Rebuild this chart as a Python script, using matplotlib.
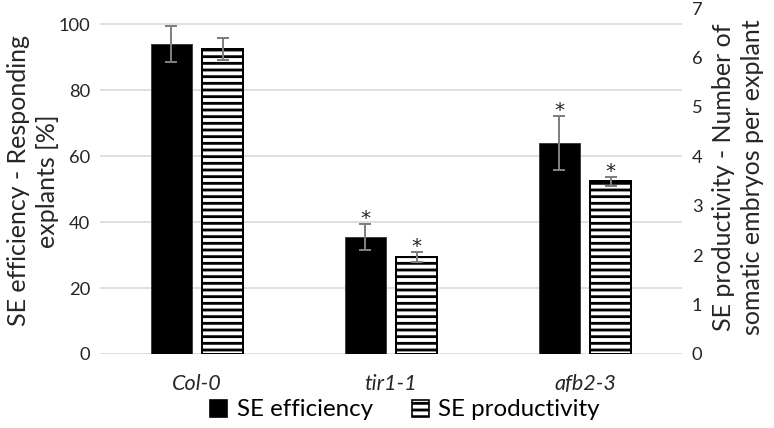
import matplotlib
matplotlib.use('Agg')
import matplotlib.pyplot as plt
from matplotlib.patches import Patch
import numpy as np

# Valores
categories = ['Col-0', 'tir1-1', 'afb2-3']
efficiency = [94.0, 35.5, 64.0]        # % explantes responsivos
efficiency_err = [5.5, 3.8, 8.3]
productivity = [6.17, 1.96, 3.49]      # embriões somáticos por explante
productivity_err = [0.22, 0.10, 0.09]
significant = [False, True, True]

left_ticks = [0, 20, 40, 60, 80, 100]
right_ticks = [0, 1, 2, 3, 4, 5, 6, 7]

plt.rcParams['font.family'] = ['Lato', 'DejaVu Sans']
plt.rcParams['hatch.linewidth'] = 1.7
plt.rcParams['hatch.color'] = 'black'

DPI = 120
fig = plt.figure(figsize=(774 / DPI, 428 / DPI), dpi=DPI)
ax = fig.add_axes([100 / 774, 1 - 354 / 428, 582 / 774, 346 / 428])
ax2 = ax.twinx()

x = np.arange(len(categories))
w = 0.21
off = 0.133
err_kw = dict(ecolor='#7f7f7f', elinewidth=1.2, capsize=3.5, capthick=1.2)

ax.bar(x - off, efficiency, w, color='black', edgecolor='#404040', linewidth=0.6,
       yerr=efficiency_err, error_kw=err_kw, zorder=3)
ax2.bar(x + off, productivity, w, color='white', edgecolor='black', linewidth=1.2,
        hatch='---', yerr=productivity_err, error_kw=err_kw, zorder=3)

# asteriscos de significância
star_kw = dict(textcoords='offset points', ha='center', va='baseline',
               fontsize=12, color='#222222', family='DejaVu Sans')
for i, sig in enumerate(significant):
    if sig:
        ax.annotate('*', xy=(x[i] - off, efficiency[i] + efficiency_err[i]),
                    xytext=(0, 0), **star_kw)
        ax2.annotate('*', xy=(x[i] + off, productivity[i] + productivity_err[i]),
                     xytext=(0, 0), **star_kw)

ax.set_xlim(-0.5, 2.5)
ax.set_ylim(0, 105)
ax2.set_ylim(0, 7)
ax.set_yticks(left_ticks)
ax2.set_yticks(right_ticks)
ax.set_xticks(x)
ax.set_xticklabels(categories, fontstyle='italic', fontsize=13)

ax.grid(True, axis='y', color='#d9d9d9', linewidth=1.0, zorder=0)
ax.set_axisbelow(True)
for a in (ax, ax2):
    for s in a.spines.values():
        s.set_visible(False)
    a.tick_params(length=0, labelsize=11, colors='#262626')
ax.tick_params(axis='y', pad=6)
ax.tick_params(axis='x', labelsize=13, pad=12)
ax2.tick_params(axis='y', pad=6)

ax.set_ylabel('SE efficiency - Responding\nexplants [%]', fontsize=15,
              color='#262626', linespacing=1.3)
ax.yaxis.set_label_coords(-0.071, 0.5)
ax2.set_ylabel('SE productivity - Number of\nsomatic embryos per explant',
               fontsize=15, color='#262626', linespacing=1.3, rotation=90)
ax2.yaxis.set_label_coords(1.052, 0.51)

handles = [
    Patch(facecolor='black', edgecolor='black', label='SE efficiency'),
    Patch(facecolor='white', edgecolor='black', hatch='---', label='SE productivity'),
]
fig.legend(handles=handles, loc='center', bbox_to_anchor=(405 / 774, 1 - 410 / 428),
           ncol=2, frameon=False, fontsize=14.5, handlelength=0.7, handleheight=0.7,
           handletextpad=0.4, columnspacing=1.6)

fig.savefig('out.png', dpi=DPI, facecolor='white')
